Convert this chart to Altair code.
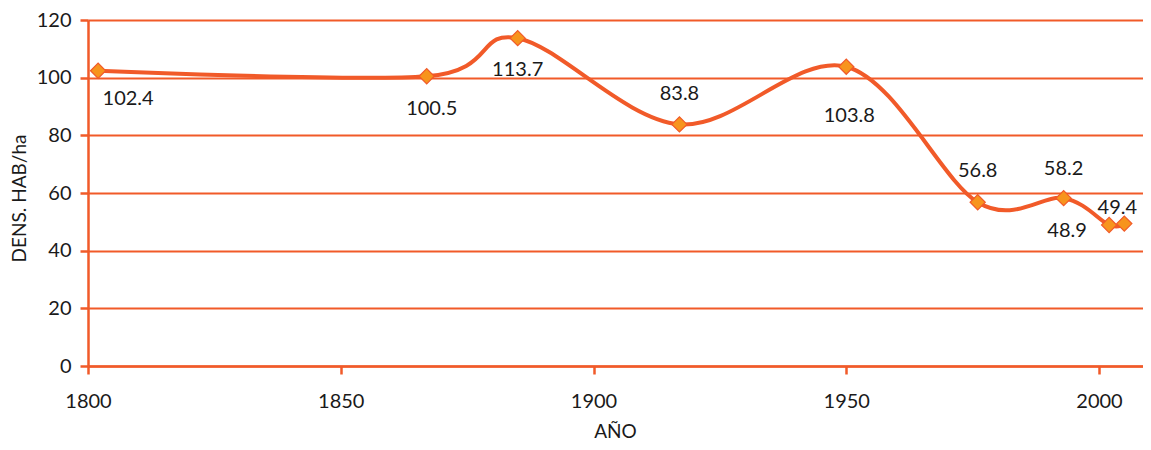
import altair as alt
import pandas as pd

years = [1802, 1867, 1885, 1917, 1950, 1976, 1993, 2002, 2005]
dens = [102.4, 100.5, 113.7, 83.8, 103.8, 56.8, 58.2, 48.9, 49.4]
labels = ["102.4", "100.5", "113.7", "83.8", "103.8", "56.8", "58.2", "48.9", "49.4"]
x_ticks = [1800, 1850, 1900, 1950, 2000]
y_ticks = [0, 20, 40, 60, 80, 100, 120]

# label offsets (style, not data): (dx, dy) per point index
label_offsets = [(30, 28), (5, 33), (0, 32), (0, -30), (3, 49), (0, -31), (0, -29), (-42, 6), (-7, -16)]

df = pd.DataFrame({"year": years, "dens": dens, "label": labels, "idx": list(range(len(years)))})

LINE = "#F15A29"
FILL = "#F7941D"
FONT = "Lato"
TXT = "#1a1a1a"
FS = 20

x = alt.X("year:Q", scale=alt.Scale(domain=[1800, 2008.7], nice=False, zero=False),
          axis=alt.Axis(values=x_ticks, format="d", title="AÑO",
                        grid=False, domain=True, domainColor=LINE, domainWidth=2.5,
                        ticks=True, tickColor=LINE, tickWidth=2.5, tickSize=8,
                        labelFontSize=FS, labelFont=FONT, labelColor=TXT, labelPadding=17,
                        labelFlush=False, labelOverlap=False,
                        titleFontSize=FS - 1, titleFont=FONT, titleColor=TXT, titleFontWeight="normal",
                        titleX=527, titleY=65, titleBaseline="middle", titleAlign="center"))
y = alt.Y("dens:Q", scale=alt.Scale(domain=[0, 120], nice=False),
          axis=alt.Axis(values=y_ticks, title="DENS. HAB/ha",
                        grid=True, gridColor=LINE, gridWidth=2, gridOpacity=1,
                        domain=True, domainColor=LINE, domainWidth=2.5,
                        ticks=True, tickColor=LINE, tickWidth=2.5, tickSize=8,
                        labelFontSize=FS, labelFont=FONT, labelColor=TXT, labelPadding=9,
                        labelFlush=False, labelOverlap=False,
                        titleFontSize=FS - 1, titleFont=FONT, titleColor=TXT, titleFontWeight="normal",
                        titleX=-69, titleY=178, titleAngle=-90, titleAlign="center", titleBaseline="middle"))

base = alt.Chart(df)
line = base.mark_line(interpolate="cardinal", color=LINE, strokeWidth=4).encode(x=x, y=y)
pts = base.mark_point(shape="diamond", filled=True, size=230, fill=FILL, stroke=LINE,
                      strokeWidth=1.2, opacity=1).encode(x=x, y=y)

layers = [line, pts]
for i, (dx, dy) in enumerate(label_offsets):
    layers.append(
        base.transform_filter(alt.datum.idx == i).mark_text(
            dx=dx, dy=dy, fontSize=FS, font=FONT, color=TXT, align="center", baseline="middle"
        ).encode(x=x, y=y, text="label:N")
    )

chart = alt.layer(*layers).properties(
    width=1055, height=346,
    autosize=alt.AutoSizeParams(type="none"),
    padding={"left": 80, "top": 12, "right": 0, "bottom": 76},
).configure_view(stroke=LINE, strokeWidth=2.5).configure(background="white")

chart.save("out.html", embed_options={"renderer": "svg", "actions": False})
